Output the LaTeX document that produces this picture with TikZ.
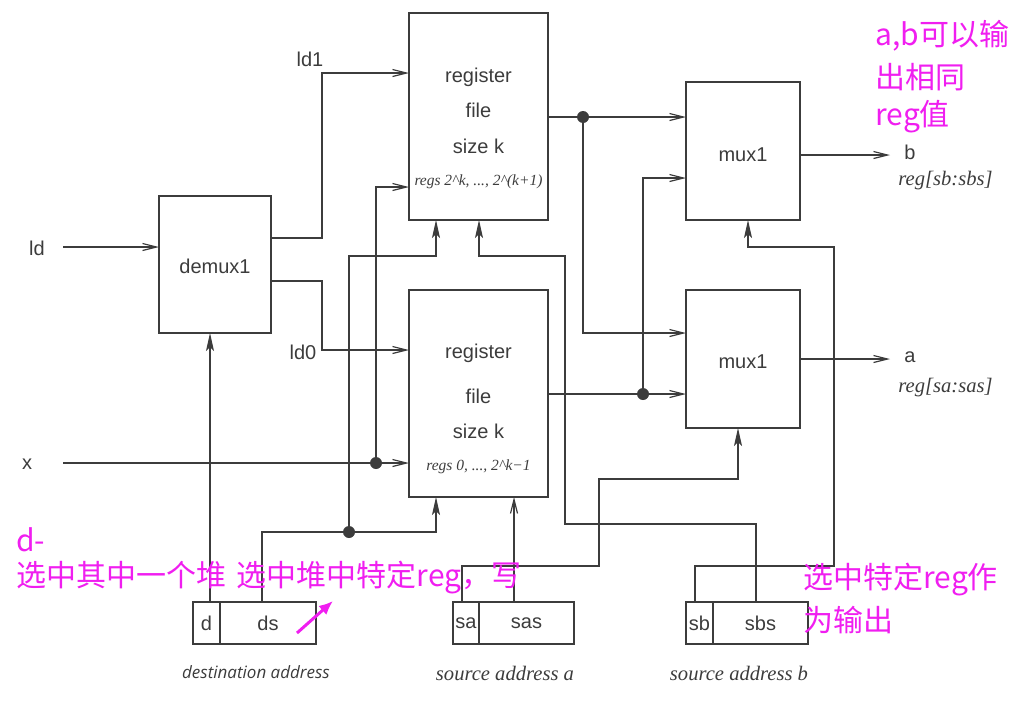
\documentclass[tikz,border=0pt]{standalone}
\usepackage{fontspec}
\setmainfont{Liberation Sans}
\newfontfamily\cjk{Noto Sans CJK SC}
\newfontfamily\tms{Liberation Serif}
\newfontfamily\osans{Open Sans}
\usetikzlibrary{positioning,arrows.meta}
\definecolor{linegray}{RGB}{60,60,60}
\definecolor{pink}{RGB}{240,30,240}
\tikzset{
  box/.style={draw=linegray, line width=0.6pt, inner sep=0pt, outer sep=0pt},
  txt/.style={text=linegray, font=\fontsize{10}{12}\selectfont, inner sep=1pt},
  regs/.style={text=linegray, font=\tms\itshape\fontsize{7.75}{9}\selectfont, inner sep=0pt},
  capt/.style={text=linegray, font=\tms\itshape\fontsize{10.3}{12}\selectfont, inner sep=0pt},
  op/.style={draw=linegray, line width=0.6pt, -{Straight Barb[length=7pt,width=3.5pt]}},
  fa/.style={draw=linegray, line width=0.6pt, -{Stealth[length=9pt,width=4pt,inset=2pt]}},
  ln/.style={draw=linegray, line width=0.6pt},
  dot/.style={circle, fill=linegray, inner sep=0pt, minimum size=6pt},
  note/.style={text=pink, font=\cjk\fontsize{15}{18}\selectfont, anchor=west, inner sep=0pt},
}
\begin{document}
\begin{tikzpicture}[x=0.5pt, y=-0.5pt]
    \useasboundingbox (0,0) rectangle (1028,723);
    % blocks
    \node[box, minimum width=56pt, minimum height=68.5pt] (demux) at (215,264.5) {};
    \node[txt] (demuxtxt) at (215,266) {demux1};
    \node[box, minimum width=69.5pt, minimum height=103.5pt] (reg1) at (478.5,116.5) {};
    \node[box, minimum width=69.5pt, minimum height=103.5pt] (reg0) at (478.5,393.5) {};
    \node[box, minimum width=57pt, minimum height=69pt] (muxb) at (743,151) {};
    \node[box, minimum width=57pt, minimum height=69pt] (muxa) at (743,359) {};
    \node[txt] (muxbtxt) at (743,155) {mux1};
    \node[txt] (muxatxt) at (743,362) {mux1};
    % register file texts
    \node[txt] (r1a) at (478.5,77) {register};
    \node[txt] (r1b) at (478.5,110) {file};
    \node[txt] (r1c) at (478.5,146) {size k};
    \node[regs] (r1d) at (478.5,182) {regs 2\textasciicircum k, ..., 2\textasciicircum(k+1)};
    \node[txt] (r0a) at (478.5,353) {register};
    \node[txt] (r0b) at (478.5,396) {file};
    \node[txt] (r0c) at (478.5,431) {size k};
    \node[regs] (r0d) at (478.5,467) {regs 0, ..., 2\textasciicircum k−1};
    % address fields
    \node[box, txt, inner sep=0pt, minimum width=13.5pt, minimum height=21pt] (d) at (206.5,623) {d};
    \node[box, txt, inner sep=0pt, minimum width=48pt, minimum height=21pt, right=0pt of d] (ds) {ds};
    \node[box, txt, inner sep=0pt, minimum width=13pt, minimum height=21pt] (sa) at (466,623) {sa};
    \node[box, txt, inner sep=0pt, minimum width=47.5pt, minimum height=21pt, right=0pt of sa] (sas) {sas};
    \node[box, txt, inner sep=0pt, minimum width=13.5pt, minimum height=21pt] (sb) at (699.5,623) {sb};
    \node[box, txt, inner sep=0pt, minimum width=47.5pt, minimum height=21pt, right=0pt of sb] (sbs) {sbs};
    \node[text=linegray, font=\osans\itshape\fontsize{8.5}{10}\selectfont, inner sep=0pt] (dcap) at (256,672) {destination address};
    \node[capt] (sacap) at (505,673) {source address a};
    \node[capt] (sbcap) at (739,673) {source address b};
    % signal labels
    \node[txt] (ld) at (37,248) {ld};
    \node[txt] (x) at (27,464) {x};
    \node[txt] (ld1) at (310,59) {ld1};
    \node[txt] (ld0) at (303,352) {ld0};
    \node[txt] (b) at (910,152) {b};
    \node[txt] (a) at (910,357) {a};
    \node[capt] (bcap) at (945.5,181) {reg[sb:sbs]};
    \node[capt] (acap) at (945.5,388) {reg[sa:sas]};
    \coordinate (ldin) at (63,247);
    \coordinate (xin) at (63,463);
    % junctions
    \node[dot] (d1) at (583,117) {};
    \node[dot] (d0) at (643,394) {};
    \node[dot] (xdot) at (376,463) {};
    \node[dot] (dsdot) at (349,532) {};
    % wires
    \draw[op] (ldin) -- (ldin -| demux.west);
    \draw[op] (demux.east |- 0,238) -| (322,73) -- (reg1.west |- 0,73);
    \draw[op] (demux.east |- 0,281) -| (322,350) -- (reg0.west |- 0,350);
    \draw[op] (xin) -- (xin -| reg0.west);
    \draw[op] (xdot) |- (reg1.west |- 0,187);
    \draw[op] (reg1.east |- d1) -- (muxb.west |- d1);
    \draw[op] (d1) |- (muxa.west |- 0,333);
    \draw[op] (reg0.east |- d0) -- (muxa.west |- d0);
    \draw[op] (d0) |- (muxb.west |- 0,178);
    \draw[op] (muxb.east |- 0,155) -- (890,155);
    \draw[op] (muxa.east |- 0,359) -- (890,359);
    \draw[fa] (d.north -| 210,0) -- (demux.south -| 210,0);
    \draw[ln] (ds.north -| 262,0) |- (dsdot);
    \draw[fa] (dsdot) -| (reg0.south -| 436,0);
    \draw[fa] (dsdot) |- (436,256) -- (reg1.south -| 436,0);
    \draw[op] (sas.north -| 514,0) -- (reg0.south -| 514,0);
    \draw[fa] (sa.north -| 462,0) |- (599,566) |- (738,479) -- (muxa.south -| 738,0);
    \draw[fa] (sbs.north -| 756,0) |- (565,524) |- (479,256) -- (reg1.south -| 479,0);
    \draw[fa] (sb.north -| 695,0) |- (834,566) |- (748,247) -- (muxb.south -| 748,0);
    % notes
    \node[note] (n1) at (875,36) {a,b可以输};
    \node[note] (n2) at (875,77) {出相同};
    \node[note] (n3) at (875,117) {reg值};
    \node[note] (n4) at (16,540) {d-};
    \node[note] (n5) at (16,578) {选中其中一个堆\hspace{0.35em}选中堆中特定reg，写};
    \node[note] (n6) at (803,580) {选中特定reg作};
    \node[note] (n7) at (803,620) {为输出};
    \coordinate (pt) at (297,633);
    \coordinate (ph) at (333,601);
    \draw[pink, line width=1.5pt, -{Latex[length=7pt,width=6pt]}] (pt) -- (ph);
\end{tikzpicture}
\end{document}
